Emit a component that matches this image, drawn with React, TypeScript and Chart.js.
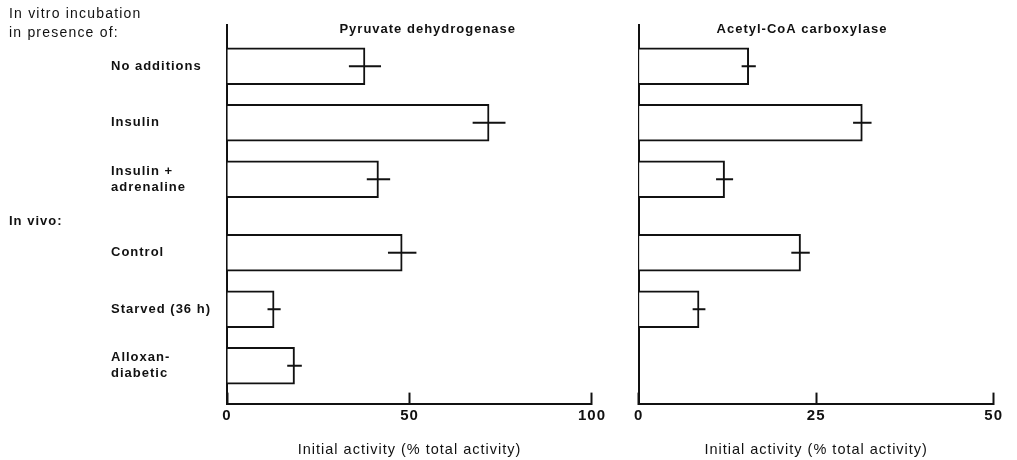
import React, { useEffect, useRef } from "react";
import { Chart, registerables } from "chart.js";

Chart.register(...registerables);

// ---- data ----
const categories: string[][] = [
  ["No additions"],
  ["Insulin"],
  ["Insulin +", "adrenaline"],
  ["Control"],
  ["Starved (36 h)"],
  ["Alloxan-", "diabetic"],
];
const groups: string[] = ["in vitro", "in vitro", "in vitro", "in vivo", "in vivo", "in vivo"];
const pdhValues: (number | null)[] = [37.8, 71.8, 41.5, 48, 12.9, 18.5];
const pdhErrors: (number | null)[] = [4.4, 4.5, 3.2, 3.9, 1.8, 2.0];
const accValues: (number | null)[] = [15.5, 31.5, 12.1, 22.8, 8.5, null];
const accErrors: (number | null)[] = [1.0, 1.3, 1.2, 1.3, 0.9, null];
const pdhTicks: number[] = [0, 50, 100];
const accTicks: number[] = [0, 25, 50];
const pdhTitle = "Pyruvate dehydrogenase";
const accTitle = "Acetyl-CoA carboxylase";
const axisTitle = "Initial activity (% total activity)";
const headingVitro = ["In vitro incubation", "in presence of:"];
const headingVivo = "In vivo:";

const GROUP_GAP = 0.3;
const positions = groups.map((g, i) => i + 1 + (g === "in vivo" ? GROUP_GAP : 0));

const FAMILY = '"Liberation Sans", Arial, Helvetica, sans-serif';
const INK = "#111";

const spacingPlugin = {
  id: "spacing",
  beforeUpdate(chart: any) {
    chart.ctx.letterSpacing = "1px";
  },
  beforeDraw(chart: any) {
    chart.ctx.letterSpacing = "1px";
  },
};

const errorPlugin = {
  id: "errbars",
  afterDatasetsDraw(chart: any) {
    const ctx = chart.ctx;
    const xs = chart.scales.x;
    const ys = chart.scales.y;
    ctx.save();
    ctx.strokeStyle = INK;
    ctx.lineWidth = 2;
    chart.data.datasets[0].data.forEach((d: any) => {
      const yp = ys.getPixelForValue(d.y);
      ctx.beginPath();
      ctx.moveTo(xs.getPixelForValue(d.x - d.err), yp);
      ctx.lineTo(xs.getPixelForValue(d.x + d.err), yp);
      ctx.stroke();
    });
    ctx.restore();
  },
};

const textPlugin = {
  id: "paneltext",
  afterDraw(chart: any, _args: any, opts: any) {
    const ctx = chart.ctx;
    const ca = chart.chartArea;
    ctx.save();
    ctx.letterSpacing = "1px";
    ctx.fillStyle = INK;
    ctx.textBaseline = "middle";
    ctx.font = `bold 13px ${FAMILY}`;
    ctx.textAlign = "center";
    ctx.fillText(opts.title, ca.left + opts.titleFrac * (ca.right - ca.left), 29);
    if (opts.headings) {
      const ys = chart.scales.y;
      ctx.textAlign = "left";
      ctx.font = `14px ${FAMILY}`;
      ctx.letterSpacing = "1.2px";
      ctx.fillText(headingVitro[0], 9, 14);
      ctx.fillText(headingVitro[1], 9, 33);
      ctx.font = `bold 13px ${FAMILY}`;
      ctx.letterSpacing = "1px";
      const mid = (positions[2] + positions[3]) / 2;
      ctx.fillText(headingVivo, 9, ys.getPixelForValue(mid) + 5);
    }
    ctx.restore();
  },
};

function buildData(values: (number | null)[], errors: (number | null)[]) {
  const out: any[] = [];
  values.forEach((v, i) => {
    if (v !== null && v !== undefined) out.push({ x: v, y: positions[i], err: errors[i] ?? 0 });
  });
  return out;
}

function makeConfig(opts: {
  values: (number | null)[];
  errors: (number | null)[];
  ticks: number[];
  title: string;
  titleFrac: number;
  labels: boolean;
  padding: any;
}) {
  const maxX = opts.ticks[opts.ticks.length - 1];
  return {
    type: "bar",
    data: {
      datasets: [
        {
          data: buildData(opts.values, opts.errors),
          backgroundColor: "#ffffff",
          borderColor: INK,
          borderWidth: 2,
          barThickness: 37,
        },
      ],
    },
    options: {
      indexAxis: "y",
      animation: false,
      responsive: false,
      events: [],
      layout: { padding: opts.padding },
      plugins: {
        legend: { display: false },
        tooltip: { enabled: false },
        title: { display: false },
        paneltext: { title: opts.title, titleFrac: opts.titleFrac, headings: opts.labels },
      },
      scales: {
        x: {
          type: "linear",
          min: 0,
          max: maxX,
          afterBuildTicks: (s: any) => {
            s.ticks = opts.ticks.map((v) => ({ value: v }));
          },
          grid: {
            display: true,
            drawOnChartArea: false,
            drawTicks: true,
            tickLength: -11,
            tickWidth: 2,
            tickColor: INK,
          },
          border: { display: true, color: INK, width: 2 },
          ticks: {
            padding: 14,
            color: INK,
            font: { family: FAMILY, size: 15, weight: "bold" },
            maxRotation: 0,
          },
          title: {
            display: true,
            text: axisTitle,
            color: INK,
            font: { family: FAMILY, size: 14.5 },
            padding: { top: 3, bottom: 1 },
          },
        },
        y: {
          type: "linear",
          reverse: true,
          offset: false,
          min: 0.27,
          max: 6.97,
          afterBuildTicks: (s: any) => {
            s.ticks = positions.map((v) => ({ value: v }));
          },
          afterFit: (s: any) => {
            s.width = opts.labels ? 116 : 0;
          },
          grid: { display: true, offset: false, drawOnChartArea: false, drawTicks: false },
          border: { display: true, color: INK, width: 2 },
          ticks: {
            display: opts.labels,
            crossAlign: "far",
            padding: 0,
            color: INK,
            font: { family: FAMILY, size: 13, weight: "bold", lineHeight: 1.25 },
            callback: (v: number) => {
              const i = positions.findIndex((p) => Math.abs(p - v) < 1e-6);
              return i >= 0 ? categories[i] : "";
            },
          },
        },
      },
    },
    plugins: [spacingPlugin, errorPlugin, textPlugin],
  } as any;
}

function Panel(props: { left: number; width: number; config: any }) {
  const ref = useRef<HTMLCanvasElement | null>(null);
  useEffect(() => {
    if (!ref.current) return;
    const chart = new Chart(ref.current, props.config);
    return () => chart.destroy();
  }, []);
  return (
    <div style={{ position: "absolute", left: props.left, top: 0, width: props.width, height: 460 }}>
      <canvas ref={ref} width={props.width} height={460} style={{ display: "block" }} />
    </div>
  );
}

export default function App() {
  const leftCfg = makeConfig({
    values: pdhValues,
    errors: pdhErrors,
    ticks: pdhTicks,
    title: pdhTitle,
    titleFrac: 0.55,
    labels: true,
    padding: { left: 111, top: 25, right: 20, bottom: 0 },
  });
  const rightCfg = makeConfig({
    values: accValues,
    errors: accErrors,
    ticks: accTicks,
    title: accTitle,
    titleFrac: 0.46,
    labels: false,
    padding: { left: 17, top: 25, right: 9, bottom: 0 },
  });
  return (
    <div style={{ position: "absolute", left: 0, top: 0, width: 1017, height: 460, background: "#fff" }}>
      <Panel left={0} width={620} config={leftCfg} />
      <Panel left={620} width={397} config={rightCfg} />
    </div>
  );
}
